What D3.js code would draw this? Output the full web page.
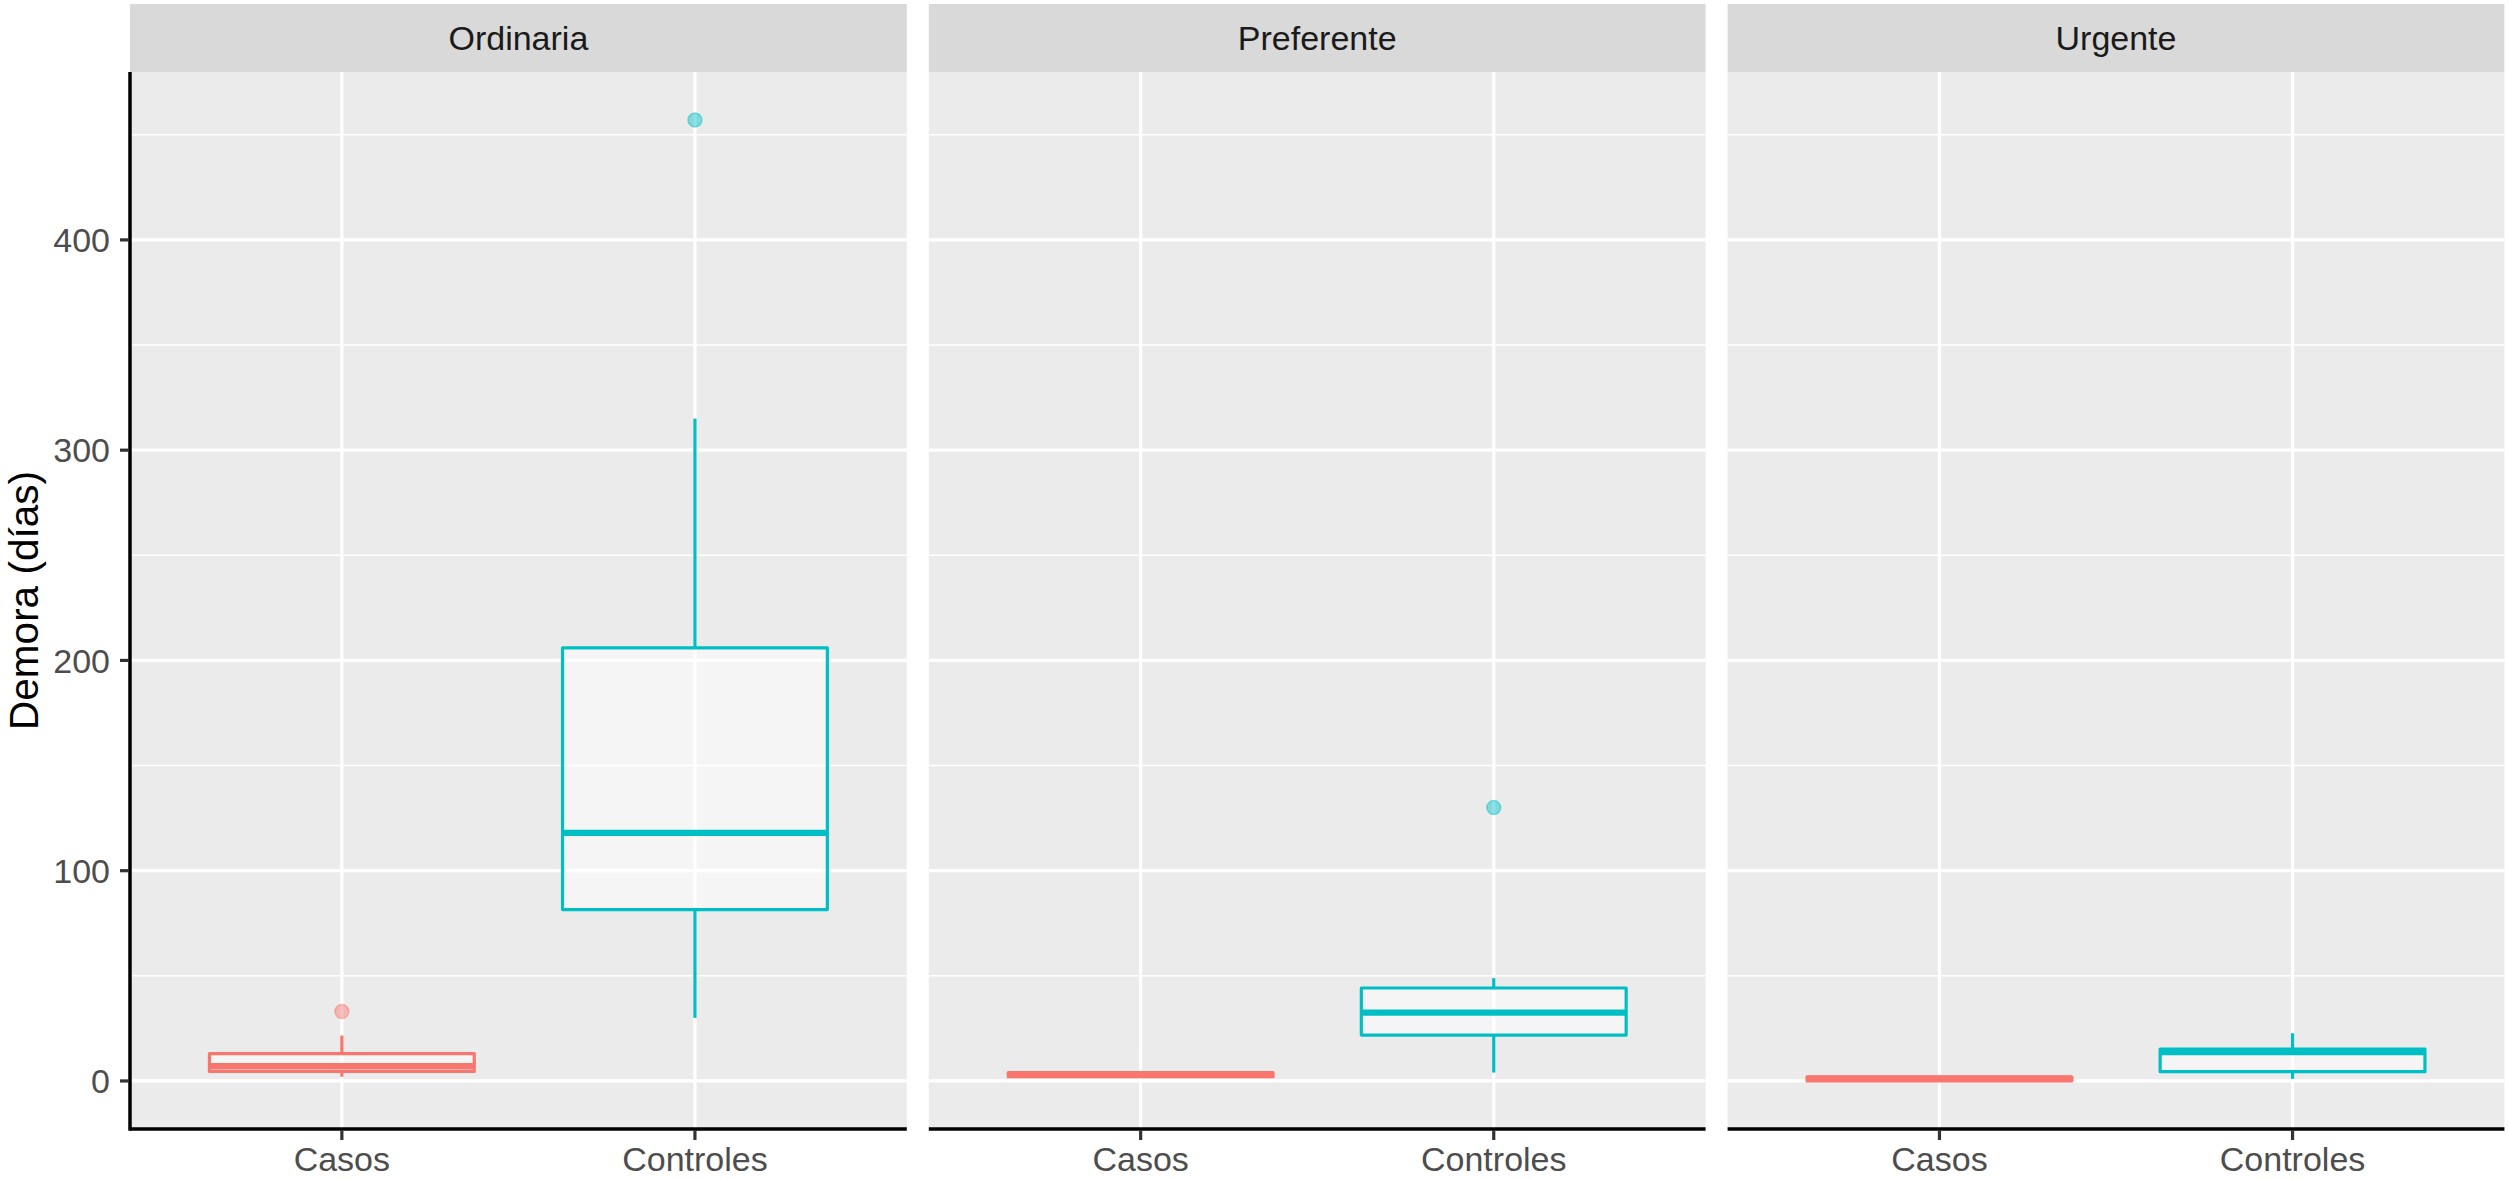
<!DOCTYPE html>
<html>
<head>
<meta charset="utf-8">
<script src="https://cdn.jsdelivr.net/npm/d3@7/dist/d3.min.js"></script>
<style>
  html, body { margin: 0; padding: 0; background: #ffffff; }
  svg { display: block; }
  text { font-family: Arial, "Liberation Sans", sans-serif; }
</style>
</head>
<body>
<svg id="chart" width="2508" height="1180"></svg>
<script>
// ---------- data ----------
const panels = ["Ordinaria", "Preferente", "Urgente"];
const groups = ["Casos", "Controles"];
const groupColors = ["#F8766D", "#00BFC4"];

// per panel: [Casos, Controles]
const whiskerLow  = [[2, 30],    [1.5, 4],   [0, 1]];
const q1          = [[4.5, 81.5],[2, 21.8],  [0, 4.4]];
const median      = [[7, 118],   [3, 32.5],  [1, 13.8]];
const q3          = [[13, 206],  [4, 44.2],  [2, 15.1]];
const whiskerHigh = [[21.6, 315],[4.5, 48.9],[2.5, 22.7]];

const outlierPanel = ["Ordinaria", "Ordinaria", "Preferente"];
const outlierGroup = ["Casos", "Controles", "Controles"];
const outlierValue = [33, 457, 130];

const yTicks = [0, 100, 200, 300, 400];
const yMinorTicks = [50, 150, 250, 350, 450];
const yTitle = "Demora (días)";

// ---------- layout ----------
const svg = d3.select("#chart");
const plotLeft = 130, plotRight = 2504.4;
const stripTop = 4, panelTop = 72, panelBottom = 1129;
const axisFont = 34, titleFont = 40.5;

const allVals = [].concat(whiskerLow.flat(), whiskerHigh.flat(), outlierValue);
const vMin = d3.min(allVals), vMax = d3.max(allVals);
const expand = (vMax - vMin) * 0.05;
const y = d3.scaleLinear().domain([vMin - expand, vMax + expand]).range([panelBottom, panelTop]);

const px = d3.scaleBand().domain(panels).range([plotLeft, plotRight]).paddingInner(0.02755).paddingOuter(0);
const pw = px.bandwidth();

panels.forEach((panel, pi) => {
  const x0 = px(panel);
  const x = d3.scalePoint().domain(groups).range([x0, x0 + pw]).padding(0.6);
  const boxW = x.step() * 0.75;
  const g = svg.append("g");

  // strip
  g.append("rect").attr("x", x0).attr("y", stripTop).attr("width", pw).attr("height", panelTop - stripTop)
    .attr("fill", "#D9D9D9");
  g.append("text").attr("x", x0 + pw / 2).attr("y", (stripTop + panelTop) / 2).attr("dy", "0.35em")
    .attr("text-anchor", "middle").attr("font-size", axisFont).attr("fill", "#1A1A1A").text(panel);

  // panel background
  g.append("rect").attr("x", x0).attr("y", panelTop).attr("width", pw).attr("height", panelBottom - panelTop)
    .attr("fill", "#EBEBEB");

  // minor grid
  g.selectAll(".minor").data(yMinorTicks).enter().append("line")
    .attr("x1", x0).attr("x2", x0 + pw).attr("y1", d => y(d)).attr("y2", d => y(d))
    .attr("stroke", "#ffffff").attr("stroke-width", 1.6);
  // major grid
  g.selectAll(".major").data(yTicks).enter().append("line")
    .attr("x1", x0).attr("x2", x0 + pw).attr("y1", d => y(d)).attr("y2", d => y(d))
    .attr("stroke", "#ffffff").attr("stroke-width", 3.2);
  g.selectAll(".vmajor").data(groups).enter().append("line")
    .attr("x1", d => x(d)).attr("x2", d => x(d)).attr("y1", panelTop).attr("y2", panelBottom)
    .attr("stroke", "#ffffff").attr("stroke-width", 3.2);

  // boxplots
  groups.forEach((grp, gi) => {
    const col = groupColors[gi];
    const cx = x(grp);
    const lw = 3.2;
    // whiskers
    g.append("line").attr("x1", cx).attr("x2", cx)
      .attr("y1", y(q3[pi][gi])).attr("y2", y(whiskerHigh[pi][gi]))
      .attr("stroke", col).attr("stroke-width", lw);
    g.append("line").attr("x1", cx).attr("x2", cx)
      .attr("y1", y(q1[pi][gi])).attr("y2", y(whiskerLow[pi][gi]))
      .attr("stroke", col).attr("stroke-width", lw);
    // box
    g.append("rect").attr("x", cx - boxW / 2).attr("width", boxW)
      .attr("y", y(q3[pi][gi])).attr("height", Math.max(0, y(q1[pi][gi]) - y(q3[pi][gi])))
      .attr("fill", "#ffffff").attr("fill-opacity", 0.5)
      .attr("stroke", col).attr("stroke-width", lw).attr("stroke-linejoin", "round");
    // median
    g.append("line").attr("x1", cx - boxW / 2).attr("x2", cx + boxW / 2)
      .attr("y1", y(median[pi][gi])).attr("y2", y(median[pi][gi]))
      .attr("stroke", col).attr("stroke-width", 6.4);
  });

  // outliers
  outlierValue.forEach((v, i) => {
    if (outlierPanel[i] !== panel) return;
    const gi = groups.indexOf(outlierGroup[i]);
    g.append("circle").attr("cx", x(outlierGroup[i])).attr("cy", y(v)).attr("r", 7)
      .attr("fill", groupColors[gi]).attr("fill-opacity", 0.45)
      .attr("stroke", groupColors[gi]).attr("stroke-opacity", 0.45).attr("stroke-width", 1.5);
  });

  // x axis
  g.append("line").attr("x1", x0).attr("x2", x0 + pw).attr("y1", panelBottom).attr("y2", panelBottom)
    .attr("stroke", "#000000").attr("stroke-width", 3.5);
  groups.forEach(grp => {
    g.append("line").attr("x1", x(grp)).attr("x2", x(grp)).attr("y1", panelBottom + 1).attr("y2", panelBottom + 11)
      .attr("stroke", "#333333").attr("stroke-width", 3.2);
    g.append("text").attr("x", x(grp)).attr("y", 1171).attr("text-anchor", "middle")
      .attr("font-size", axisFont).attr("fill", "#4D4D4D").text(grp);
  });
});

// y axis (first panel only)
const yg = svg.append("g");
yg.append("line").attr("x1", plotLeft).attr("x2", plotLeft).attr("y1", panelTop).attr("y2", panelBottom + 1.75)
  .attr("stroke", "#000000").attr("stroke-width", 3.5);
yg.selectAll(".yt").data(yTicks).enter().append("line")
  .attr("x1", plotLeft - 10).attr("x2", plotLeft - 1).attr("y1", d => y(d)).attr("y2", d => y(d))
  .attr("stroke", "#333333").attr("stroke-width", 3.2);
yg.selectAll(".yl").data(yTicks).enter().append("text")
  .attr("x", 110).attr("y", d => y(d)).attr("dy", "0.36em").attr("text-anchor", "end")
  .attr("font-size", axisFont).attr("fill", "#4D4D4D").text(d => d);

svg.append("text").attr("transform", `translate(38, ${(panelTop + panelBottom) / 2}) rotate(-90)`)
  .attr("text-anchor", "middle").attr("font-size", titleFont).attr("fill", "#000000").text(yTitle);
</script>
</body>
</html>
